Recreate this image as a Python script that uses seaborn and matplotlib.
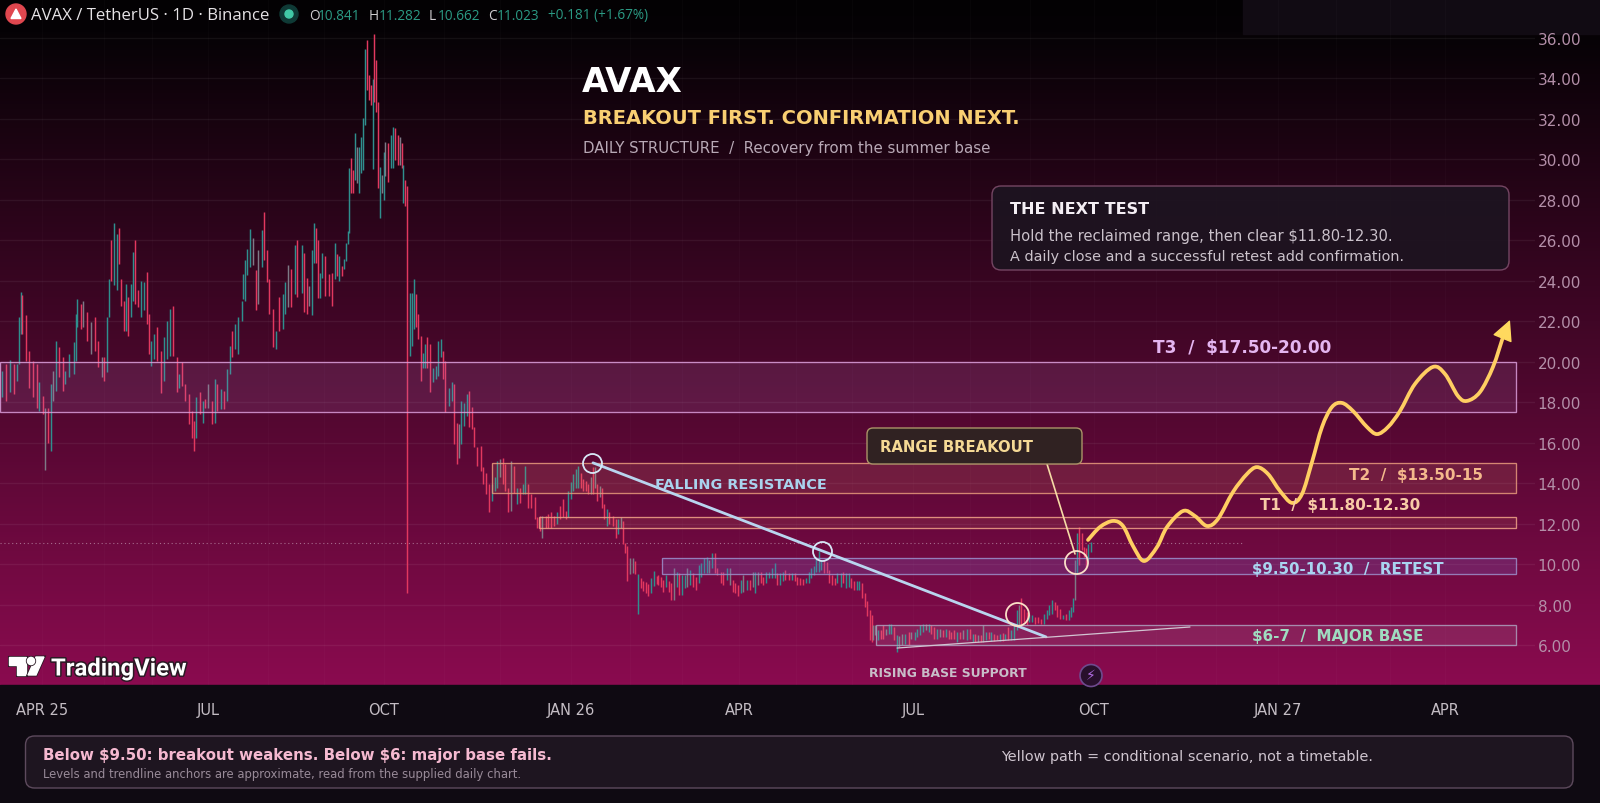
import numpy as np
import pandas as pd
import matplotlib
matplotlib.use("Agg")
import matplotlib.pyplot as plt
import matplotlib.patheffects as pe
from matplotlib.colors import LinearSegmentedColormap
from matplotlib.patches import Rectangle, FancyBboxPatch, Circle, Polygon, PathPatch
from matplotlib.path import Path
import seaborn as sns

# ---------- DATA: (session, high, low, tone); one session = one chart step
bars_spring_25 = [
(1,19.55,18.23,'u'),(3,19.88,18.06,'d'),(5,20.08,18.48,'u'),(7,19.88,18.4,'d'),(8.5,19.88,19.05,'u'),(9.5,22.2,19.88,'u'),
(10.5,23.43,21.37,'u'),(11,23.27,21.37,'d'),(13,22.28,20.05,'d'),(14.5,20.54,18.72,'d'),(16.5,20.05,18.23,'d'),(18.5,19.88,17.73,'d'),
(19.5,18.97,17.57,'u'),(21.5,18.31,17.4,'d'),(22.5,17.73,14.67,'n'),(24,17.73,16,'d'),(25.5,18.89,15.58,'u'),(26.5,19.55,18.06,'n'),
(28,21.04,18.56,'u'),(29.5,20.71,19.22,'d'),(31.5,20.21,18.56,'d'),(32.5,19.55,18.89,'u'),(34.5,20.38,19.22,'u'),(37,20.96,19.38,'u'),
(38,22.36,20.05,'u'),(38.5,23.1,21.7,'u'),(40.5,22.86,21.62,'d'),(41.5,23.02,21.7,'n'),(43.5,22.44,21.04,'d'),(45.5,21.95,20.38,'n'),
(47.5,22.2,20.54,'d'),(49,21.04,19.72,'d'),(51,20.21,19.22,'n'),(52,20.21,19.05,'d'),(53.5,22.2,19.47,'u'),(54.5,24.1,22.2,'u'),
(55.5,26,24,'d'),(57,26.86,23.77,'u'),(58.5,26.33,23.52,'u'),(59.5,26.58,24.84,'d'),(60.5,24.1,22.77,'d'),(62,23.02,21.53,'d'),
(63,23.85,21.53,'u'),(64,23.19,21.29,'d'),(65.5,23.85,22.2,'u'),(66.5,25.42,23.02,'u'),(67.5,26.03,22.86,'d'),(69,23.52,22.69,'d'),
(70.5,24,22.2,'u'),(72,23.93,22.53,'u'),(73.5,24.43,21.86,'d'),(74.5,22.36,20.38,'d'),(75.5,21.04,19.8,'u'),(77,21.37,20.13,'u'),
(78.5,21.7,20.05,'d'),(80.5,20.54,18.43,'d'),(82,21.2,19.05,'u'),(83.5,22.03,20.13,'u'),(85,22.61,20.3,'u'),(86.5,22.77,20.3,'d'),
(88.5,20.21,18.48,'d'),(89.5,19.38,18.72,'u'),(91,19.96,18.8,'d'),(92.5,18.89,18.06,'d'),(94.5,18.39,16.91,'d'),(96,17.57,16.24,'d'),
(97,17.07,15.58,'d'),(98,18.23,16.24,'u'),(100,18.48,17.4,'d'),(101.5,18.06,16.99,'u'),(102.5,18.15,17.73,'d'),(104,18.89,17.73,'n'),
(106,18.06,16.91,'d'),(107.5,19.14,16.99,'u'),(108.5,18.89,17.57,'d'),(110.5,18.64,17.65,'u'),(112,18.56,17.65,'d'),(113.5,19.63,18.06,'u'),
(115,20.79,19.38,'u'),(116,21.53,20.21,'d'),(117.5,21.86,20.62,'u'),(119,22.2,20.38,'u'),(121,23.02,22.03,'u'),(121.5,24.31,23.1,'u'),
(122.5,25,23.02,'u'),(123.5,25.58,24.26,'u'),(125,26.53,24.67,'u'),(126.5,26.13,24.76,'n'),(128,24.51,22.53,'d'),(129,25.5,22.86,'n'),
(131,26.49,24.67,'u'),(132,27.37,25,'d'),(133.5,25.5,23.93,'d'),(134.5,24.1,22.36,'d'),(136.5,22.61,20.71,'d'),(138,21.53,20.62,'u'),
(139.5,23.19,21.53,'d'),(141.5,23.35,21.62,'u'),(142.5,23.93,22.36,'u'),(144,24.76,22.69,'n'),(145.5,24.59,22.69,'d'),(147.5,25.75,23.35,'u'),
(148.5,26,23.19,'d'),
]
bars_summer_25 = [
(151,25.74,23.41,'u'),(152,25.38,22.43,'d'),(153.5,24.15,22.34,'d'),(154.5,23.74,22.75,'n'),(156,25.54,22.29,'u'),(157,26.85,24.88,'u'),
(158,26.61,24.88,'d'),(159,26.03,23.16,'d'),(160,24.39,23.16,'u'),(161,25.38,24.15,'u'),(162.5,25.21,23.25,'d'),(164.5,24.31,23.25,'d'),
(166,24.39,22.75,'d'),(167.5,25.84,24.07,'u'),(168.5,25.34,24.23,'d'),(169.5,25.21,23.98,'u'),(171,24.72,24.23,'d'),(172,25.05,24.56,'u'),
(173,25.87,24.97,'u'),(174,26.44,25.79,'u'),(174.5,29.56,26.36,'u'),(175.5,30.05,28.33,'d'),(176.5,29.47,28.33,'d'),(177.5,31.28,28.98,'u'),
(178.5,30.62,28.82,'n'),(179.5,30.62,28.33,'u'),(180.5,31.11,29.31,'u'),(181.5,32.02,29.47,'u'),(182.5,35.46,31.69,'u'),(183.5,35.87,33.41,'d'),
(184.5,34.15,32.92,'d'),(185.5,33.66,32.67,'d'),(186.5,33.98,29.51,'u'),(187,36.2,32.84,'d'),(188,34.88,32.34,'d'),(189,32.84,28.57,'d'),
(190,29.64,27.1,'u'),(191,29.23,28.33,'n'),(192,30.38,28,'u'),(192.5,30.87,29.15,'n'),(194,30.79,28.9,'d'),(195.5,31.2,29.56,'u'),
(196.5,31.6,29.56,'u'),(197.5,31.52,29.97,'d'),(199,31.2,29.72,'d'),(200,31.11,29.72,'n'),(201,30.79,29.56,'d'),(201.5,29.72,27.84,'u'),
(202.5,28.98,27.67,'d'),(203.5,28.69,8.57,'d'),
]
bars_winter_25 = [
(205,23.37,20.29,'u'),(206,23.37,20.78,'u'),(207,24.08,21.61,'u'),(208,23.34,21.69,'d'),(209,22.35,21.11,'d'),(210.5,21.28,19.05,'d'),
(211.5,20.45,19.71,'u'),(212.5,20.87,19.71,'u'),(213.5,21.2,19.71,'d'),(215,20.87,18.48,'d'),(216.5,19.71,18.97,'u'),(218,19.8,19.14,'u'),
(219,21.03,19.3,'u'),(220.5,21.11,20.21,'u'),(221.5,20.54,19.14,'d'),(222.5,20.04,17.49,'d'),(224.5,18.72,17.82,'u'),(226,18.97,18.06,'u'),
(227,18.89,15.92,'d'),(228.5,16.99,14.93,'d'),(229.5,16.91,15.26,'n'),(230.5,18.06,15.92,'u'),(232,17.98,16.83,'u'),(233.5,18.39,17.32,'u'),
(234.5,18.56,16.75,'d'),(236,17.74,16.66,'d'),(237,16.75,15.76,'d'),(238.5,15.76,14.85,'d'),(240.5,15.84,14.61,'d'),(241.5,14.77,13.95,'d'),
(243,14.52,13.45,'d'),(244.5,13.95,12.55,'d'),(246,13.95,13.12,'u'),(247.5,14.28,13.62,'u'),(248.5,15.1,13.78,'u'),(250,15.18,14.28,'n'),
(251.5,15.26,13.95,'d'),(252.5,14.93,13.62,'d'),(254,13.78,12.55,'d'),(255.5,15.1,12.63,'n'),(257,14.85,13.53,'d'),(258.5,13.78,12.96,'u'),
(260,13.78,13.04,'d'),(261.5,13.95,13.45,'u'),(262.5,14.85,13.45,'u'),(264,13.95,12.79,'d'),(265.5,13.45,12.79,'d'),(267.5,13.29,12.22,'d'),
(268.5,12.3,11.8,'d'),(270,12.38,11.64,'d'),(271,12.38,11.31,'n'),(273,12.38,11.8,'d'),(274,12.46,11.8,'d'),(275.5,12.55,11.8,'d'),
(277,12.38,11.89,'d'),(278.5,12.55,11.97,'u'),(280,12.88,12.22,'d'),(281.5,13.2,12.3,'d'),(283,12.63,12.22,'d'),(284,13.62,12.3,'u'),
(285.5,14.03,13.2,'u'),(286.5,14.44,13.62,'u'),(288,14.69,13.78,'u'),(289,14.85,13.78,'u'),(290.5,14.52,13.78,'d'),(291.5,14.19,13.62,'d'),
(293,14.11,13.62,'d'),(294,13.95,13.45,'d'),(295.5,14.28,13.45,'n'),(296.5,14.77,13.45,'d'),(297.5,14.77,13.78,'n'),(298.5,13.95,13.12,'d'),
(300,13.86,13.29,'n'),(301,13.78,12.79,'d'),(302,12.96,12.22,'d'),(303.5,12.71,11.89,'u'),(304.5,12.55,11.97,'d'),(306.5,12.38,11.89,'d'),
(308,12.22,11.31,'d'),(309,12.22,11.47,'u'),(310.5,12.3,11.8,'n'),(311.5,12.13,10.98,'d'),(312.5,11.06,10.57,'d'),(313.5,10.9,9.17,'d'),
(315,10.32,9.5,'n'),(316.5,10.32,9.58,'n'),(317.5,10.16,9.5,'d'),(319,9.5,7.52,'u'),(320.5,9.33,8.84,'d'),(321.5,9.17,8.67,'d'),
(323,9.09,8.59,'d'),(324,9,8.43,'d'),(325.5,9.33,8.59,'u'),(327,9.66,8.92,'u'),(328.5,9.42,9,'d'),
]
bars_spring_26 = [
(329,9.47,8.97,'d'),(330.5,9.38,8.89,'d'),(331.5,9.22,8.64,'d'),(333,9.47,8.89,'u'),(334.5,9.14,8.64,'d'),(335.5,9.05,8.23,'d'),
(337,9.8,8.23,'n'),(338.5,9.63,8.89,'u'),(339.5,9.55,8.48,'d'),(341,9.47,8.48,'u'),(342.5,9.47,8.81,'u'),(343.5,9.8,8.89,'n'),
(345,9.71,8.97,'u'),(346.5,9.55,8.89,'d'),(348,9.38,8.72,'d'),(349.5,9.96,9.05,'u'),(350.5,10.04,9.38,'u'),(352,10.29,9.55,'u'),
(353.5,10.37,9.55,'u'),(354.5,10.21,9.55,'n'),(356,10.57,9.8,'u'),(357.5,10.54,9.55,'d'),(358.5,9.8,9.47,'d'),(360.5,9.63,9.05,'d'),
(361.5,9.63,8.97,'d'),(363.5,9.8,9.22,'u'),(365,9.8,8.97,'n'),(366.5,9.22,8.64,'d'),(367.5,9.05,8.56,'d'),(369,8.97,8.4,'d'),
(370.5,9.22,8.56,'u'),(371.5,9.47,8.64,'n'),(373.5,9.22,8.72,'u'),(375,9.22,8.72,'d'),(376.5,9.63,8.89,'n'),(377.5,9.63,8.56,'u'),
(379,9.63,8.97,'n'),(380.5,9.63,9.05,'d'),(381.5,9.38,8.97,'d'),(383,9.63,9.05,'u'),(384.5,9.63,9.3,'u'),(386,9.8,9.3,'u'),
(387.5,10.04,9.3,'u'),(388.5,9.55,8.97,'d'),(390,9.55,8.97,'u'),(391.5,9.63,9.14,'u'),(392.5,9.71,9.22,'d'),(394.5,9.55,9.22,'d'),
(396,9.58,9.22,'u'),(397.5,9.55,9.14,'d'),(398.5,9.38,8.97,'d'),(400,9.3,8.97,'d'),(401.5,9.25,8.97,'d'),(403,9.3,9.05,'u'),
(404.5,9.63,9.05,'u'),(405.5,9.8,9.3,'u'),(407,9.88,9.47,'u'),(408,10.37,9.63,'u'),(409.5,10.62,9.63,'u'),(410.5,10.21,9.71,'u'),
(412,10.21,9.55,'d'),(413.5,10.12,9.55,'d'),(414.5,9.71,9.05,'d'),(416,9.47,8.97,'d'),(417.5,9.3,8.97,'d'),(418.5,9.55,9.05,'u'),
(420.5,9.55,8.89,'u'),(421.5,9.63,9.05,'d'),(423,9.55,8.81,'u'),(424.5,9.55,8.89,'u'),(425.5,9.3,8.81,'d'),(427,9.14,8.72,'d'),
(428.5,9.14,8.72,'u'),(429.5,9.14,8.72,'u'),(431,9.05,8.31,'d'),(432.5,8.56,7.9,'d'),(433.5,8.15,7.41,'d'),(435,7.74,6.25,'d'),
]
bars_summer_26 = [
(436,7.47,6.15,'d'),(436.5,6.98,6.23,'n'),(437.5,6.98,6.48,'n'),(439,6.73,6.23,'u'),(440.5,6.73,6.32,'d'),(441.5,6.98,6.32,'d'),
(443,6.81,6.48,'n'),(444.5,7.03,6.56,'u'),(445.5,7.06,6.56,'u'),(447,6.89,6.23,'d'),(448.5,6.48,5.66,'u'),(449.5,6.43,5.91,'n'),
(451,6.56,5.99,'n'),(452.5,6.56,6.04,'u'),(454.5,6.65,5.99,'d'),(455.5,6.65,6.32,'n'),(457.5,6.65,6.23,'u'),(458.5,6.81,6.4,'u'),
(460,6.98,6.48,'u'),(461.5,7.06,6.65,'u'),(463,7.06,6.73,'n'),(464.5,7.06,6.65,'u'),(465.5,6.98,6.56,'d'),(467,6.89,6.32,'d'),
(468.5,6.81,6.32,'u'),(470,6.81,6.4,'n'),(471.5,6.73,6.4,'d'),(473,6.81,6.4,'u'),(474.5,6.73,6.32,'d'),(475.5,6.65,6.32,'d'),
(477,6.73,6.32,'d'),(478.5,6.65,6.15,'u'),(480,6.65,6.32,'d'),(481.5,6.73,6.32,'n'),(483.5,6.81,6.23,'u'),(485,6.81,6.32,'d'),
(486.5,6.56,6.15,'u'),(487.5,6.56,6.15,'d'),(489,6.48,6.15,'n'),(490.5,6.48,6.15,'d'),(491.5,6.98,6.15,'n'),(493,6.65,6.23,'u'),
(494.5,6.65,6.32,'d'),(495.5,6.65,6.2,'u'),(497,6.56,6.2,'d'),(498.5,6.48,6.23,'d'),(500,6.56,6.2,'u'),(501.5,6.6,6.2,'d'),
(502.5,6.56,6.23,'u'),(504,6.89,6.23,'d'),(505.5,6.73,6.23,'u'),(507,6.98,6.23,'u'),(508.5,7.72,6.73,'u'),(509.5,7.96,6.98,'n'),
(510.5,8.34,7.06,'d'),(512,7.8,7.14,'d'),(513.5,7.64,6.98,'d'),(514.5,7.55,7.14,'u'),(516,7.47,7.14,'u'),(517.5,7.39,7.06,'d'),
(519,7.39,7.09,'d'),(520.5,7.3,7.06,'d'),(522,7.55,7.06,'u'),(523.5,7.72,7.3,'u'),(524.5,7.96,7.47,'u'),(526,8.21,7.55,'u'),
(527.5,8.13,7.72,'d'),(528.5,7.96,7.39,'d'),(530,7.8,7.3,'d'),(531.5,7.47,7.26,'u'),(533,7.55,7.22,'d'),(534.5,7.72,7.22,'u'),
(535.5,7.88,7.39,'u'),(536.5,8.3,7.64,'u'),(537.5,10.19,8.21,'n'),(538.5,11.51,9.53,'u'),(539.5,11.84,9.94,'d'),(541,11.51,10.68,'d'),
(542,10.85,10.35,'d'),(543,10.77,9.78,'d'),(544,11,10.19,'u'),(545.5,11.09,10.6,'u'),
]

path_session = [544,550,556.5,561.5,566.5,572,578.5,583.5,591.5,597.5,603.5,609,616.5,623.5,628.5,634,640,646,651,656,661,666,671,
                676.5,683.5,688.5,694,700,707.5,716.5,722.5,729,733.5,740,746.5,751.5]
path_price = [11.19,11.83,12.13,11.88,10.89,10.15,10.84,11.83,12.62,12.37,11.88,12.23,13.56,14.45,14.79,14.45,13.61,13.02,13.46,15.04,16.77,17.76,17.96,
              17.56,16.77,16.42,16.77,17.56,18.9,19.74,19.39,18.3,18.06,18.5,19.74,21.22]
path_tip = (755, 22.06)

falling_s, falling_p = [296.5, 523], [15.0, 6.4]
rising_s, rising_p = [448.5, 595], [5.85, 6.89]
callout_s, callout_p = [523.5, 537.5], [14.94, 10.5]
touch_s = [296, 411, 508.5, 538]
touch_p = [15.0, 10.65, 7.55, 10.1]

zone_names = ['T3', 'T2', 'T1', 'Retest', 'Base']
zone_start = [0, 246, 269.5, 331, 438]
zone_end = [758, 758, 758, 758, 758]
zone_low = [17.5, 13.5, 11.8, 9.5, 6.0]
zone_high = [20.0, 15.0, 12.3, 10.3, 7.0]

price_ticks = list(range(6, 37, 2))
tick_session = [21, 104, 192, 285.5, 369.5, 456.5, 547, 639, 722.5]
tick_labels = ['APR 25', 'JUL', 'OCT', 'JAN 26', 'APR', 'JUL', 'OCT', 'JAN 27', 'APR']
month_session = [52, 76, 134, 162, 222, 250, 315, 341, 398, 426, 485, 515, 578, 608, 668, 695]
last_price = 11.02

# ---------- figure
sns.set_theme(style="dark")
plt.rcParams['font.family'] = ['DejaVu Sans']
W, H = 1600, 804
fig = plt.figure(figsize=(16, 8.04), dpi=100, facecolor='#0f0a12')

bg = fig.add_axes([0, 0, 1, 1], zorder=0)
bg.set_xlim(0, W); bg.set_ylim(H, 0); bg.axis('off')
cmap = LinearSegmentedColormap.from_list('g', [(0, '#030103'), (30/686, '#050205'), (1, '#8a0b4f')])
bg.imshow(np.linspace(0, 1, 686)[:, None], cmap=cmap, extent=(0, W, 686, 0), aspect='auto', zorder=0)
bg.set_xlim(0, W); bg.set_ylim(H, 0)
bg.add_patch(Rectangle((0, 686), W, H-686, color='#0f0a12', zorder=1))
bg.add_patch(Rectangle((1243, 0), W-1243, 35, color='#110b13', zorder=1))

# axis: 1 session = 2 px, 1 price unit = 20.24 px
ax = fig.add_axes([0, (H-686)/H, 1535/W, 686/H], zorder=2)
ax.patch.set_alpha(0)
ax.set_xlim(0, 767.5)
ax.set_ylim(6-40/20.24, 6+646/20.24)
for s in ax.spines.values():
    s.set_visible(False)
ax.yaxis.tick_right()
ax.set_yticks(price_ticks)
ax.set_yticklabels([f'{p:.2f}' for p in price_ticks])
ax.set_xticks(tick_session)
ax.set_xticklabels(tick_labels)
ax.tick_params(axis='y', length=0, pad=2, labelsize=11, labelcolor='#b38fa8')
ax.tick_params(axis='x', length=0, pad=12, labelsize=10.5, labelcolor='#c4bdc4')
ax.grid(False)
for p in price_ticks:
    ax.axhline(p, color='#ffffff', alpha=0.06, lw=1, zorder=1)
for s in tick_session + month_session:
    ax.axvline(s, color='#ffffff', alpha=0.018, lw=1, zorder=1)
ax.hlines(last_price, 0, 621, color='#ffffff', alpha=0.4, lw=0.8, linestyles=(0, (1, 2.5)), zorder=1)

frame = pd.DataFrame(bars_spring_25 + bars_summer_25 + bars_winter_25 + bars_spring_26 + bars_summer_26,
                     columns=['session', 'high', 'low', 'tone'])
tone_colors = {'u': '#2f8f8e', 'd': '#e2385f', 'n': '#7d7a86'}
ax.vlines(frame['session'], frame['low'], frame['high'], colors=frame['tone'].map(tone_colors), lw=1.05, zorder=3)

zone_edge = ['#dc9fdc', '#e89b7c', '#f2a488', '#9c90cc', '#ad9fbd']
zone_fill = ['#b77fc4', '#e59a70', '#e89a70', '#7f67c8', '#ccb8d0']
zone_alpha = [0.15, 0.14, 0.11, 0.24, 0.13]
for i, n in enumerate(zone_names):
    ax.add_patch(Rectangle((zone_start[i], zone_low[i]), zone_end[i]-zone_start[i], zone_high[i]-zone_low[i],
                           facecolor=zone_fill[i], alpha=zone_alpha[i], lw=0, zorder=4))
    ax.add_patch(Rectangle((zone_start[i], zone_low[i]), zone_end[i]-zone_start[i], zone_high[i]-zone_low[i],
                           facecolor='none', edgecolor=zone_edge[i], lw=0.95, alpha=0.85, zorder=4))

sns.lineplot(x=falling_s, y=falling_p, ax=ax, color='#b9d5ef', lw=2.0, zorder=5, estimator=None, sort=False)
sns.lineplot(x=rising_s, y=rising_p, ax=ax, color='#d2c4d2', lw=0.9, zorder=5, estimator=None, sort=False)
sns.lineplot(x=callout_s, y=callout_p, ax=ax, color='#f5dba6', lw=1.2, zorder=5, estimator=None, sort=False)

# scenario path: a smooth pen stroke through the read points
pts = np.column_stack([path_session, path_price])
verts, codes = [pts[0]], [Path.MOVETO]
for i in range(len(pts)-1):
    p0 = pts[max(i-1, 0)]; p1 = pts[i]; p2 = pts[i+1]; p3 = pts[min(i+2, len(pts)-1)]
    verts += [p1+(p2-p0)/6, p2-(p3-p1)/6, p2]
    codes += [Path.CURVE4]*3
ax.add_patch(PathPatch(Path(verts, codes), fc='none', ec='#ffce62', lw=2.7, capstyle='round', joinstyle='round', zorder=7))
ax.annotate('', xy=path_tip, xytext=pts[-1], zorder=8,
            arrowprops=dict(arrowstyle='-|>,head_length=1.0,head_width=0.5', mutation_scale=13,
                            fc='#ffd95e', ec='#ffd95e', lw=1, shrinkA=0, shrinkB=0))

touch_colors = ['#d7e8f7', '#d7e8f7', '#fbe0c8', '#fbe0c8']
touch_ms = [19, 19, 23, 23]
for s, p, c, m in zip(touch_s, touch_p, touch_colors, touch_ms):
    ax.plot([s], [p], 'o', ms=m*0.72, mfc='none', mec=c, mew=1.3, zorder=6)

tk = dict(fontweight='bold', va='center', ha='left', zorder=9)
ax.text(327.5, 13.93, 'FALLING RESISTANCE', color='#a9d3ee', fontsize=10.4, **tk)
ax.text(576.5, 20.73, 'T3  /  $17.50-20.00', color='#e4b5f0', fontsize=12.2, **tk)
ax.text(674.5, 14.4, 'T2  /  $13.50-15', color='#f4b98c', fontsize=11, **tk)
ax.text(630, 12.95, 'T1  /  $11.80-12.30', color='#f8cba6', fontsize=10.9, **tk)
ax.text(626, 9.8, '$9.50-10.30  /  RETEST', color='#a9d4f0', fontsize=10.8, **tk)
ax.text(626, 6.47, '$6-7  /  MAJOR BASE', color='#9fdcc0', fontsize=10.9, **tk)

# ---------- chrome on a full-figure layer
ui = fig.add_axes([0, 0, 1, 1], zorder=3)
ui.set_xlim(0, W); ui.set_ylim(H, 0); ui.axis('off'); ui.patch.set_alpha(0)

def label(x, y, s, color, size, weight='normal', family=None, **kw):
    return ui.text(x, y, s, color=color, fontsize=size, fontweight=weight, va='center', ha='left',
                   family=family or 'DejaVu Sans', **kw)

def panel(x0, y0, x1, y1, r, fc, ec, alpha=1):
    ui.add_patch(FancyBboxPatch((x0+r, y0+r), x1-x0-2*r, y1-y0-2*r, boxstyle=f'round,pad={r},rounding_size={r}',
                                fc=fc, ec=ec, lw=1, alpha=alpha))

# header
ui.add_patch(Circle((16, 15), 10, color='#e0474f'))
ui.add_patch(Polygon([(16, 10), (21, 19.5), (11, 19.5)], color='#ffffff'))
label(31, 16, 'AVAX / TetherUS · 1D · Binance', '#e6e3e6', 12.1, family='Open Sans')
ui.add_patch(Circle((289, 15), 9, color='#0f3a36'))
ui.add_patch(Circle((289, 15), 4, color='#41c9a6'))
head = [(309, 'O', '#d0cdd0'), (318, '10.841', '#2b9a84'), (369, 'H', '#d0cdd0'), (379, '11.282', '#2b9a84'),
        (429, 'L', '#d0cdd0'), (438, '10.662', '#2b9a84'), (488, 'C', '#d0cdd0'), (497, '11.023', '#2b9a84'),
        (548, '+0.181 (+1.67%)', '#2b9a84')]
for x, s, c in head:
    label(x, 16, s, c, 9.8, family='Open Sans')

# titles
label(582, 83, 'AVAX', '#ffffff', 24.5, 'bold')
label(583, 118, 'BREAKOUT FIRST. CONFIRMATION NEXT.', '#f9cf72', 14.05, 'bold')
label(583, 148, 'DAILY STRUCTURE  /  Recovery from the summer base', '#b8a9b6', 10.85)

# the next test box
panel(992, 187, 1509, 271, 9, '#1d1420', '#7a4a68', alpha=0.93)
label(1010, 209, 'THE NEXT TEST', '#f4eef4', 11.5, 'bold')
label(1010, 236, 'Hold the reclaimed range, then clear $11.80-12.30.', '#cbc2cb', 10.6)
label(1010, 257, 'A daily close and a successful retest add confirmation.', '#cbc2cb', 10.4)

# breakout callout
panel(867, 429, 1082, 465, 6, '#302222', '#ab9468')
label(880, 448, 'RANGE BREAKOUT', '#f5d995', 10.7, 'bold')

label(869, 674, 'RISING BASE SUPPORT', '#c8bdc8', 8.9, 'bold')

# lightning badge
ui.add_patch(Circle((1091, 676.5), 11, fc='#28102c', ec='#6e4a8e', lw=1.2))
ui.text(1091, 676.5, '\u26a1', color='#b46ee6', fontsize=10, ha='center', va='center', family='DejaVu Sans')

# logo
out = [pe.withStroke(linewidth=2.2, foreground='#2a1a24')]
for poly in ([(9, 658), (26, 658), (26, 676), (17, 676), (17, 666), (9, 666)],
             [(36, 658), (44, 658), (36, 676), (28, 676)]):
    ui.add_patch(Polygon(poly, color='#ffffff', path_effects=out))
ui.add_patch(Circle((31, 662), 3.6, color='#ffffff', path_effects=out))
label(51, 670, 'TradingView', '#ffffff', 17.2, 'bold', family='Roboto', path_effects=out)

# bottom note
panel(25.5, 737, 1573, 789, 9, '#1e1520', '#5d4a5d')
label(43, 756, r'Below \$9.50: breakout weakens. Below \$6: major base fails.', '#f5b9d0', 10.8, 'bold')
label(43, 775, 'Levels and trendline anchors are approximate, read from the supplied daily chart.', '#988a98', 8.35)
label(1001, 757, 'Yellow path = conditional scenario, not a timetable.', '#cfc5cf', 10.35)

fig.savefig('out.png', dpi=100, facecolor=fig.get_facecolor())
